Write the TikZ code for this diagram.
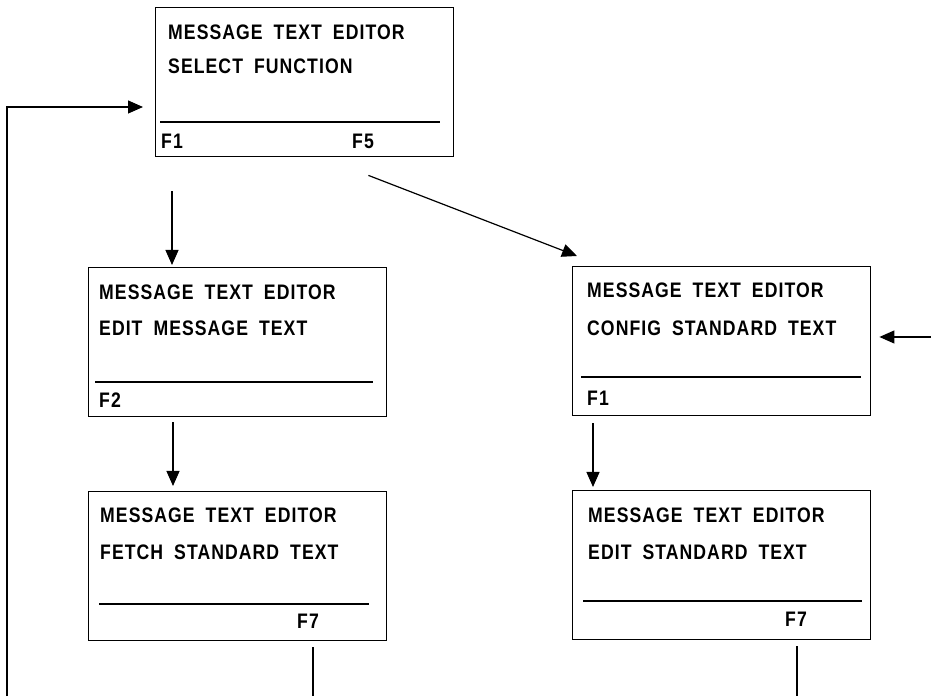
\documentclass[tikz,border=0pt]{standalone}
\usepackage{fontspec}
\setmainfont{Liberation Sans}[FakeStretch=0.84, LetterSpace=5]
\usetikzlibrary{arrows.meta,calc}

\begin{document}
\begin{tikzpicture}[x=1pt,y=1pt,
  screen/.style={draw, line width=1.4pt, minimum width=298pt, minimum height=149pt,
                 inner sep=0pt, anchor=north west},
  lbl/.style={anchor=base west, inner sep=0pt,
              font=\fontsize{21}{22}\selectfont\bfseries,
              execute at begin node={\spaceskip=11pt\relax}},
  arr/.style={line width=1.2pt, -{Triangle[length=15pt,width=13pt]}},
  link/.style={line width=1.2pt},
  sep/.style={line width=1.1pt}]
\useasboundingbox (0,0) rectangle (931,696);

% main menu screen
\node[screen] (sel) at (155,689) {};
\node[lbl] (sel1) at ($(sel.north west)+(13,-33)$) {MESSAGE TEXT EDITOR};
\node[lbl] (sel2) at ($(sel.north west)+(13,-67)$) {SELECT FUNCTION};
\draw[sep] ($(sel.north west)+(5,-115)$) -- ($(sel.north west)+(285,-115)$);
\node[lbl] (self1) at ($(sel.north west)+(6,-142)$) {F1};
\node[lbl] (self5) at ($(sel.north west)+(197,-142)$) {F5};

% edit message text screen
\node[screen] (edm) at (88,429) {};
\node[lbl] (edm1) at ($(edm.north west)+(11,-33)$) {MESSAGE TEXT EDITOR};
\node[lbl] (edm2) at ($(edm.north west)+(11,-69)$) {EDIT MESSAGE TEXT};
\draw[sep] ($(edm.north west)+(7,-115)$) -- ($(edm.north west)+(285,-115)$);
\node[lbl] (edmf2) at ($(edm.north west)+(11,-141)$) {F2};

% configure standard text screen
\node[screen] (cfg) at (572,430) {};
\node[lbl] (cfg1) at ($(cfg.north west)+(15,-32)$) {MESSAGE TEXT EDITOR};
\node[lbl] (cfg2) at ($(cfg.north west)+(15,-70)$) {CONFIG STANDARD TEXT};
\draw[sep] ($(cfg.north west)+(9,-111)$) -- ($(cfg.north west)+(289,-111)$);
\node[lbl] (cfgf1) at ($(cfg.north west)+(15,-140)$) {F1};

% fetch standard text screen
\node[screen] (fet) at (88,205) {};
\node[lbl] (fet1) at ($(fet.north west)+(12,-32)$) {MESSAGE TEXT EDITOR};
\node[lbl] (fet2) at ($(fet.north west)+(12,-69)$) {FETCH STANDARD TEXT};
\draw[sep] ($(fet.north west)+(11,-113)$) -- ($(fet.north west)+(281,-113)$);
\node[lbl] (fetf7) at ($(fet.north west)+(209,-137)$) {F7};

% edit standard text screen
\node[screen] (eds) at (572,206) {};
\node[lbl] (eds1) at ($(eds.north west)+(16,-33)$) {MESSAGE TEXT EDITOR};
\node[lbl] (eds2) at ($(eds.north west)+(16,-70)$) {EDIT STANDARD TEXT};
\draw[sep] ($(eds.north west)+(11,-111)$) -- ($(eds.north west)+(290,-111)$);
\node[lbl] (edsf7) at ($(eds.north west)+(213,-136)$) {F7};

% transitions
\draw[arr] ($(sel.south west)+(17,-34)$) -- ($(edm.north west)+(84,2)$);
\draw[arr] ($(edm.south west)+(85,-5)$) -- ($(fet.north west)+(85,5)$);
\draw[arr] ($(cfg.south west)+(21,-7)$) -- ($(eds.north west)+(21,3)$);
\draw[arr] ($(sel.south east)+(-86,-18)$) -- ($(cfg.north west)+(5,10)$);

% return paths running off the page
\coordinate (loopend) at (7,0);
\draw[arr] (loopend) |- ($(sel.north west)+(-12,-100)$);
\coordinate (rin) at (931,359);
\draw[arr] (rin) -- ($(cfg.north east)+(8,-71)$);
\coordinate (fout) at (313,0);
\draw[link] ($(fet.south west)+(225,-6)$) -- (fout);
\coordinate (eout) at (797,0);
\draw[link] ($(eds.south west)+(225,-6)$) -- (eout);
\end{tikzpicture}
\end{document}
